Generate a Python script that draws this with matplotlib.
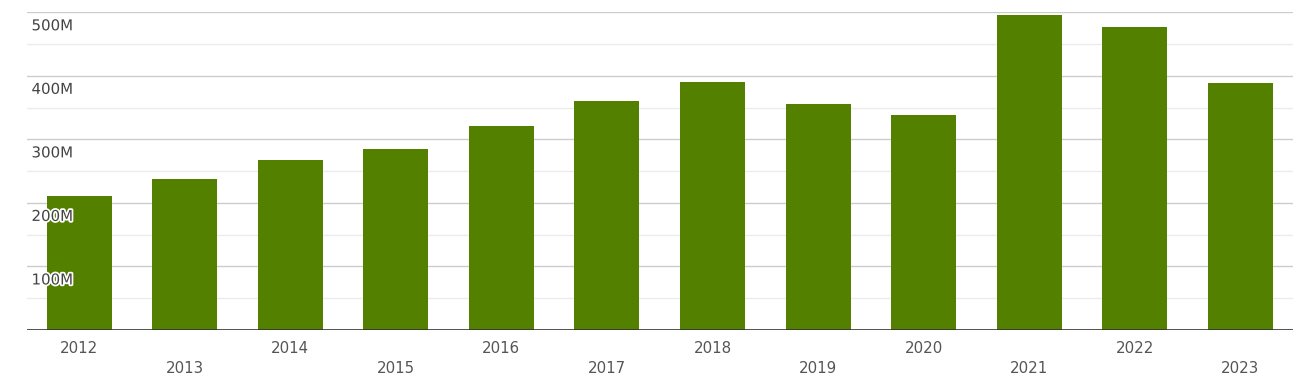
import matplotlib
matplotlib.use("Agg")
import matplotlib.pyplot as plt
import matplotlib.transforms as mtransforms
import matplotlib.patheffects as pe

years = ["2012", "2013", "2014", "2015", "2016", "2017", "2018", "2019", "2020", "2021", "2022", "2023"]
values_m = [211, 238, 268, 285, 321, 360, 390, 356, 338, 496, 477, 389]
ytick_values_m = [100, 200, 300, 400, 500]
ytick_labels = ["100M", "200M", "300M", "400M", "500M"]
minor_values_m = [50, 150, 250, 350, 450]

W, H = 1293, 384
fig = plt.figure(figsize=(W / 100, H / 100), dpi=100)
ax = fig.add_axes([26.5 / W, 54 / H, 1 - 26.5 / W, (330 - 12.3) / H])

x = list(range(len(years)))
ax.bar(x, values_m, width=0.616, color="#548000", zorder=2)

ax.set_xlim(-0.5, len(years) - 0.5)
ax.set_ylim(0, 500)

for v in minor_values_m:
    ax.axhline(v, color="#ebebeb", lw=1, zorder=1)
for v in ytick_values_m:
    ax.axhline(v, color="#cccccc", lw=1, zorder=1)
ax.axhline(0, color="#333333", lw=1.2, zorder=3)

for s in ax.spines.values():
    s.set_visible(False)
ax.set_xticks([])
ax.set_yticks([])

trans_y = mtransforms.blended_transform_factory(ax.transAxes, ax.transData)
for v, lab in zip(ytick_values_m, ytick_labels):
    t = mtransforms.offset_copy(trans_y, fig=fig, x=5, y=-13.5, units="dots")
    ax.text(0, v, lab, transform=t, ha="left", va="center", fontsize=10.8,
            color="#444444", zorder=4,
            path_effects=[pe.withStroke(linewidth=2.5, foreground="white")])

trans_x = mtransforms.blended_transform_factory(ax.transData, ax.transAxes)
for i, lab in enumerate(years):
    off = -18.5 if i % 2 == 0 else -38.5
    t = mtransforms.offset_copy(trans_x, fig=fig, x=0, y=off, units="dots")
    ax.text(i, 0, lab, transform=t, ha="center", va="center", fontsize=10.8,
            color="#555555")

fig.savefig("out.png", dpi=100)
